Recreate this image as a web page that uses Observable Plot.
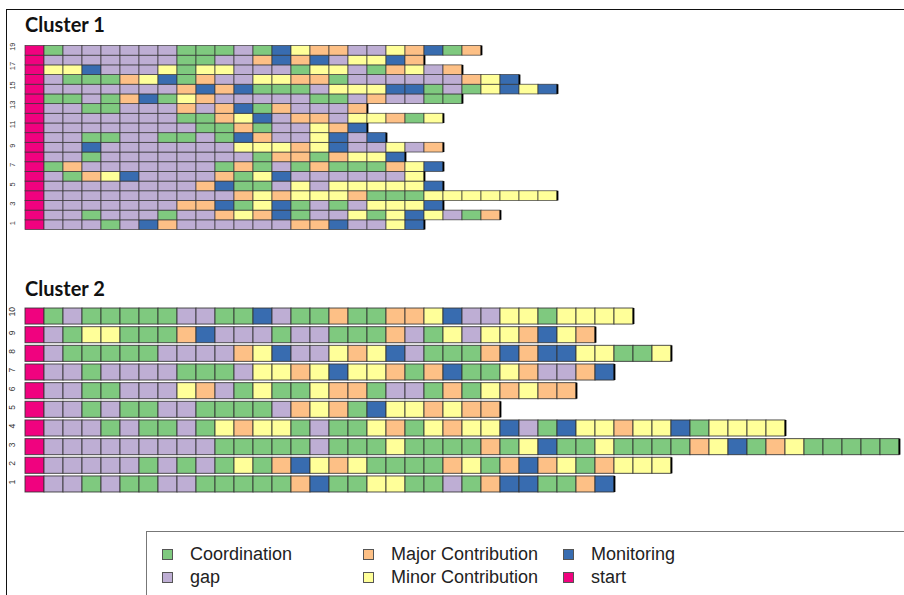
<!DOCTYPE html>
<html><head><meta charset="utf-8">
<script src="https://cdn.jsdelivr.net/npm/d3@7"></script>
<script src="https://cdn.jsdelivr.net/npm/@observablehq/plot@0.6"></script>
<style>
body{margin:0;background:#fff;}
#wrap{position:relative;width:904px;height:595px;overflow:hidden;background:#fff;}
#frame{position:absolute;left:6px;top:9px;width:1000px;height:700px;border-left:1.6px solid #111;border-top:1.6px solid #111;}
.title{position:absolute;left:25px;font-family:Lato,"Open Sans",sans-serif;font-weight:bold;font-size:20px;color:#111;line-height:1;}
.plot{position:absolute;left:0;}
#legend{position:absolute;left:146px;top:531px;width:800px;height:100px;border:1px solid #777;font-family:"Liberation Sans",Arial,sans-serif;font-size:18px;color:#222;}
.item{position:absolute;display:flex;align-items:center;white-space:nowrap;}
.sw{width:9px;height:9px;border:1px solid #555;margin-right:17px;}
</style></head><body>
<div id="wrap"><div id="frame"></div>
<div class="title" style="top:14px">Cluster 1</div>
<div class="title" style="top:278px">Cluster 2</div>
</div>
<script>
// states, codes and colours
const states = ["Coordination","gap","Major Contribution","Minor Contribution","Monitoring","start"];
const codes  = ["G","P","O","Y","B","S"];
const colors = ["#7FC97F","#BEAED4","#FDC086","#FFFF99","#386CB0","#F0027F"];

// Cluster 1 sequences, row 1 .. row 19
const cluster1Rows = [1,2,3,4,5,6,7,8,9,10,11,12,13,14,15,16,17,18,19];
const cluster1Seqs = [
 "S P P P G P B O P P P P P P O O B P P Y B",
 "S P P G P P P G P P O Y O B G P P Y G Y B Y P G O",
 "S P P P P P P P O O B G Y B G P G P Y Y Y B",
 "S P P P P P P P P P P O Y O Y Y Y O G G G Y Y Y Y Y Y Y",
 "S P P P P P P P P O B G G P Y P Y Y Y Y Y B",
 "S P G O Y B P P P P O G Y B P P P P P P Y",
 "S G O P P P P P P P G O G P G O G G G O Y B",
 "S P P G P P P P P P P P G O O G O Y Y B",
 "S P P B P P P P P P P Y Y Y O Y B P P Y P O",
 "S P P G G P P G G P G B O P P Y B P B",
 "S P P P P P P P P G G O G P P Y O B",
 "S P P P P P P P G G O Y B P O O P Y Y O G Y",
 "S P P G G P P P O P O B G O P P P O",
 "S G G P G O B G Y O P P P P P G G P O P P G G",
 "S P P P P P P P O B O B G G G P Y Y Y B B G P G Y B Y B",
 "S P G G G O Y B G O P P Y Y O O G P P P P P P O Y B",
 "S Y Y B P P P Y G Y Y P P P G Y Y P G O Y P O",
 "S P P P P P P P G G P P O B O B P Y Y B O",
 "S G P P P P P P G G G P G B Y O O P P Y O B G O"
];
const cluster1Ticks = [1,3,5,7,9,11,13,15,17,19];

// Cluster 2 sequences, row 1 .. row 10
const cluster2Rows = [1,2,3,4,5,6,7,8,9,10];
const cluster2Seqs = [
 "S P P G P G G P P G G G G G O B G G Y Y G G P G O B B G G O B",
 "S P P P P P G P G P G Y G O B Y O Y G G G G O Y G O B O Y G O Y Y Y",
 "S P P P P P P P P P G G G G G P G G G Y G G G G O G Y B G G Y G G G G O Y B G O Y G G G G G",
 "S P P P G P G G P G Y O Y Y G P G G Y O G Y O Y Y B P G B Y Y O Y Y B G Y Y Y Y",
 "S P P G P G G P P G G G G P O Y O G B Y Y O Y O O",
 "S P P G G P P P Y O P G Y G G Y O O G P P G O G Y O Y O O",
 "S P P G P P P P G G G P Y Y O Y B Y Y O G O B G G Y O P P O B",
 "S P G G G G G P P P P O Y B P P Y O Y B P G G G O B O B B Y Y G G Y",
 "S P G Y Y G G G O B P P P G P P G G G O P G Y P Y Y O B Y O",
 "S G P G G G G G P P G G B P G G O G G O O Y B P P Y Y G Y Y Y Y"
];
const cluster2Ticks = [1,2,3,4,5,6,7,8,9,10];

const maxLen = 46;

function build(rows, seqs){
  const cells = [], ends = [];
  rows.forEach((r, i) => {
    const s = seqs[i].split(/\s+/).filter(Boolean);
    s.forEach((c, j) => cells.push({row: r, pos: j, state: states[codes.indexOf(c)]}));
    ends.push({row: r, len: s.length});
  });
  return {cells, ends};
}

function seqPlot(rows, seqs, ticks, opt){
  const {cells, ends} = build(rows, seqs);
  return Plot.plot({
    width: 904, height: opt.height,
    marginLeft: 25, marginRight: 5, marginTop: opt.mt, marginBottom: opt.mb,
    x: {domain: [0, maxLen], axis: null},
    y: {domain: rows.slice().reverse(), padding: opt.pad, round: false, axis: null},
    color: {domain: states, range: colors},
    style: {background: "transparent", overflow: "visible"},
    marks: [
      Plot.barX(cells, {x1: "pos", x2: d => d.pos + 1, y: "row", fill: "state",
        stroke: "#333", strokeWidth: opt.sw, strokeOpacity: 0.85, inset: 0}),
      Plot.tickX(ends, {x: "len", y: "row", stroke: "#000", strokeWidth: 1.8}),
      Plot.text(ticks, {y: d => d, text: d => String(d), frameAnchor: "left", dx: -13,
        rotate: -90, fontSize: opt.fs, fill: "#333", fontFamily: "Liberation Sans, Arial, sans-serif"})
    ]
  });
}

const wrap = document.getElementById("wrap");
const p1 = seqPlot(cluster1Rows, cluster1Seqs, cluster1Ticks, {height: 195, mt: 5.5, mb: 5.5, pad: 0, sw: 0.8, fs: 7.5});
p1.classList.add("plot"); p1.style.top = "40px";
wrap.appendChild(p1);
const p2 = seqPlot(cluster2Rows, cluster2Seqs, cluster2Ticks, {height: 205, mt: 10.4, mb: 5.4, pad: 0.14, sw: 1, fs: 8.5});
p2.classList.add("plot"); p2.style.top = "295px";
wrap.appendChild(p2);

// legend
const legend = document.createElement("div");
legend.id = "legend";
const legendCols = [[0,1],[2,3],[4,5]];
const colX = [15, 216, 416];
const rowY = [12, 35];
legendCols.forEach((col, ci) => col.forEach((si, ri) => {
  const it = document.createElement("div");
  it.className = "item";
  it.style.left = colX[ci] + "px";
  it.style.top = rowY[ri] + "px";
  const sw = document.createElement("div");
  sw.className = "sw"; sw.style.background = colors[si];
  const tx = document.createElement("span"); tx.textContent = states[si];
  it.appendChild(sw); it.appendChild(tx);
  legend.appendChild(it);
}));
wrap.appendChild(legend);
</script>
</body></html>
